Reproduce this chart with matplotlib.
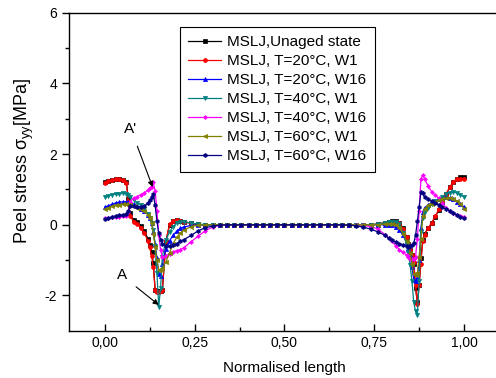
import numpy as np
import matplotlib
matplotlib.use("Agg")
import matplotlib.pyplot as plt
from matplotlib.ticker import FixedLocator, FuncFormatter

plt.rcParams['font.family'] = ['Liberation Sans', 'DejaVu Sans']
plt.rcParams['mathtext.default'] = 'regular'
plt.rcParams['axes.unicode_minus'] = False

# normalised position along the overlap (finer near the ends)
x_pos = [0.00, 0.01, 0.02, 0.03, 0.04, 0.05, 0.06, 0.065, 0.07, 0.08,
         0.09, 0.10, 0.11, 0.12, 0.125, 0.13, 0.135, 0.14, 0.145, 0.15,
         0.155, 0.16, 0.17, 0.18, 0.19, 0.20, 0.21, 0.22, 0.24, 0.26,
         0.28, 0.30, 0.32, 0.34, 0.36, 0.38, 0.40, 0.42, 0.44, 0.46,
         0.48, 0.50, 0.52, 0.54, 0.56, 0.58, 0.60, 0.62, 0.64, 0.66,
         0.68, 0.70, 0.72,
         0.74, 0.76, 0.78, 0.79, 0.80, 0.81, 0.82, 0.83, 0.84, 0.845,
         0.85, 0.855, 0.86, 0.865, 0.87, 0.875, 0.88, 0.885, 0.89, 0.90,
         0.91, 0.92, 0.93, 0.94, 0.95, 0.96, 0.97, 0.98, 0.99, 1.00]

unaged = [1.22, 1.25, 1.28, 1.30, 1.30, 1.28, 1.22, 0.72, 0.32, 0.14,
          0.07, -0.03, -0.17, -0.40, -0.56, -0.78, -1.08, -1.85, -1.88, -1.88,
          -1.87, -1.85, -0.48, 0.00, 0.11, 0.13, 0.12, 0.09, 0.04, 0.01,
          0.00, 0.00, 0.00, 0.00, 0.00, 0.00, 0.00, 0.00, 0.00, 0.00,
          0.00, 0.00, 0.00, 0.00, 0.00, 0.00, 0.00, 0.00, 0.00, 0.00,
          0.00, 0.00, 0.00,
          0.00, 0.02, 0.06, 0.08, 0.10, 0.10, 0.06, -0.10, -0.35, -0.55,
          -0.70, -0.85, -1.10, -1.80, -2.20, -1.70, -0.95, -0.42, -0.26, -0.10,
          0.05, 0.22, 0.43, 0.65, 0.86, 1.06, 1.21, 1.31, 1.35, 1.35]

t20_w1 = [1.19, 1.23, 1.27, 1.29, 1.29, 1.26, 1.19, 0.66, 0.26, 0.09,
          0.02, -0.08, -0.24, -0.46, -0.64, -0.88, -1.20, -1.86, -1.89, -1.89,
          -1.88, -1.86, -0.45, 0.02, 0.12, 0.13, 0.12, 0.09, 0.04, 0.01,
          0.00, 0.00, 0.00, 0.00, 0.00, 0.00, 0.00, 0.00, 0.00, 0.00,
          0.00, 0.00, 0.00, 0.00, 0.00, 0.00, 0.00, 0.00, 0.00, 0.00,
          0.00, 0.00, 0.00,
          0.00, 0.02, 0.06, 0.08, 0.09, 0.09, 0.05, -0.12, -0.36, -0.55,
          -0.70, -0.85, -1.05, -1.70, -2.25, -1.70, -1.10, -0.45, -0.28, -0.10,
          0.06, 0.24, 0.45, 0.66, 0.87, 1.06, 1.20, 1.29, 1.31, 1.31]

t20_w16 = [0.50, 0.54, 0.58, 0.62, 0.64, 0.65, 0.65, 0.64, 0.63, 0.58,
           0.52, 0.46, 0.40, 0.28, 0.18, 0.04, -0.20, -0.53, -0.95, -1.40,
           -1.45, -1.10, -0.68, -0.45, -0.30, -0.18, -0.10, -0.06, -0.02, 0.00,
           0.00, 0.00, 0.00, 0.00, 0.00, 0.00, 0.00, 0.00, 0.00, 0.00,
           0.00, 0.00, 0.00, 0.00, 0.00, 0.00, 0.00, 0.00, 0.00, 0.00,
           0.00, 0.00, 0.00,
           0.00, 0.00, 0.00, 0.00, -0.02, -0.06, -0.14, -0.30, -0.50, -0.65,
           -0.85, -1.20, -1.55, -1.58, -1.50, -1.00, -0.10, 0.35, 0.48, 0.56,
           0.62, 0.67, 0.72, 0.76, 0.78, 0.77, 0.72, 0.65, 0.58, 0.51]

t40_w1 = [0.79, 0.82, 0.85, 0.87, 0.88, 0.89, 0.88, 0.84, 0.78, 0.70,
          0.62, 0.55, 0.46, 0.30, 0.20, 0.05, -0.15, -0.60, -1.37, -2.32,
          -1.80, -0.90, -0.43, -0.20, -0.05, 0.05, 0.08, 0.08, 0.05, 0.02,
          0.00, 0.00, 0.00, 0.00, 0.00, 0.00, 0.00, 0.00, 0.00, 0.00,
          0.00, 0.00, 0.00, 0.00, 0.00, 0.00, 0.00, 0.00, 0.00, 0.00,
          0.00, 0.00, 0.00,
          0.00, 0.02, 0.06, 0.08, 0.09, 0.08, 0.02, -0.22, -0.55, -0.80,
          -1.15, -1.60, -2.20, -2.45, -2.55, -1.60, -0.20, 0.20, 0.35, 0.48,
          0.58, 0.66, 0.73, 0.80, 0.87, 0.91, 0.93, 0.90, 0.85, 0.79]

t40_w16 = [0.18, 0.19, 0.21, 0.22, 0.23, 0.24, 0.25, 0.35, 0.65, 0.76,
           0.80, 0.85, 0.90, 0.98, 1.03, 1.08, 1.20, 0.95, 0.40, -0.30,
           -0.70, -0.92, -0.88, -0.82, -0.77, -0.73, -0.70, -0.65, -0.48, -0.32,
           -0.17, -0.06, -0.02, 0.00, 0.00, 0.00, 0.00, 0.00, 0.00, 0.00,
           0.00, 0.00, 0.00, 0.00, 0.00, 0.00, 0.00, 0.00, 0.00, 0.00,
           0.00, -0.01, -0.02,
           -0.05, -0.12, -0.28, -0.37, -0.47, -0.60, -0.70, -0.78, -0.86, -0.92,
           -0.96, -0.98, -0.98, -0.90, -0.40, 0.40, 1.30, 1.42, 1.30, 1.10,
           0.93, 0.84, 0.75, 0.62, 0.48, 0.38, 0.32, 0.29, 0.26, 0.23]

t60_w1 = [0.44, 0.48, 0.52, 0.55, 0.57, 0.58, 0.58, 0.57, 0.56, 0.52,
          0.48, 0.44, 0.38, 0.28, 0.20, 0.05, -0.25, -0.62, -1.00, -1.28,
          -1.27, -1.23, -1.05, -0.80, -0.53, -0.36, -0.23, -0.15, -0.05, -0.01,
          0.00, 0.00, 0.00, 0.00, 0.00, 0.00, 0.00, 0.00, 0.00, 0.00,
          0.00, 0.00, 0.00, 0.00, 0.00, 0.00, 0.00, 0.00, 0.00, 0.00,
          0.00, 0.00, 0.00,
          0.00, 0.00, 0.02, 0.03, 0.03, 0.00, -0.08, -0.25, -0.45, -0.60,
          -0.80, -1.10, -1.40, -1.42, -1.37, -0.90, -0.40, 0.25, 0.45, 0.55,
          0.60, 0.65, 0.70, 0.73, 0.76, 0.77, 0.74, 0.68, 0.58, 0.46]

t60_w16 = [0.15, 0.18, 0.22, 0.25, 0.27, 0.28, 0.30, 0.40, 0.52, 0.53,
           0.51, 0.50, 0.53, 0.62, 0.70, 0.78, 0.86, 0.55, 0.10, -0.24,
           -0.42, -0.53, -0.60, -0.60, -0.57, -0.53, -0.47, -0.42, -0.30, -0.17,
           -0.08, -0.04, -0.01, 0.00, 0.00, 0.00, 0.00, 0.00, 0.00, 0.00,
           0.00, 0.00, 0.00, 0.00, 0.00, 0.00, 0.00, 0.00, 0.00, 0.00,
           -0.01, -0.03, -0.07,
           -0.12, -0.20, -0.30, -0.38, -0.44, -0.49, -0.53, -0.58, -0.61, -0.62,
           -0.60, -0.57, -0.52, -0.30, 0.10, 0.50, 0.93, 0.90, 0.78, 0.72,
           0.67, 0.62, 0.57, 0.50, 0.44, 0.40, 0.34, 0.28, 0.23, 0.18]

series = [
    ("MSLJ,Unaged state", unaged, "black", "s", 2.6),
    ("MSLJ, T=20°C, W1", t20_w1, "#ff0000", "o", 2.8),
    ("MSLJ, T=20°C, W16", t20_w16, "#0000ff", "^", 3.0),
    ("MSLJ, T=40°C, W1", t40_w1, "#008080", "v", 3.0),
    ("MSLJ, T=40°C, W16", t40_w16, "#ff00ff", "D", 2.0),
    ("MSLJ, T=60°C, W1", t60_w1, "#808000", "<", 3.0),
    ("MSLJ, T=60°C, W16", t60_w16, "#000080", "h", 2.8),
]

x_ticks = [0.0, 0.25, 0.5, 0.75, 1.0]
y_ticks = [-2, 0, 2, 4, 6]

fig = plt.figure(figsize=(4.96, 3.78), dpi=100)
ax = fig.add_axes([0.139, 0.125, 0.869, 0.841])

for label, vals, col, mk, ms in series:
    ax.plot(x_pos, vals, color=col, marker=mk, markersize=ms, linewidth=0.9,
            markeredgewidth=0.5, label=label)

ax.set_xlim(-0.1, 1.1)
ax.set_ylim(-3, 6)
ax.xaxis.set_major_locator(FixedLocator(x_ticks))
ax.xaxis.set_minor_locator(FixedLocator([0.125, 0.375, 0.625, 0.875]))
ax.yaxis.set_major_locator(FixedLocator(y_ticks))
ax.yaxis.set_minor_locator(FixedLocator([-1, 1, 3, 5]))
ax.xaxis.set_major_formatter(FuncFormatter(lambda v, p: f"{v:.2f}".replace('.', ',')))
ax.yaxis.set_major_formatter(FuncFormatter(lambda v, p: f"{int(v)}"))

ax.tick_params(axis='x', which='major', direction='in', length=5, width=1, labelsize=10, pad=4)
ax.tick_params(axis='x', which='minor', direction='in', length=3, width=1)
ax.tick_params(axis='y', which='major', direction='out', length=5, width=1, labelsize=10)
ax.tick_params(axis='y', which='minor', direction='out', length=3, width=1)
for s in ax.spines.values():
    s.set_linewidth(1.0)

ax.set_xlabel("Normalised length", fontsize=11, labelpad=8)
ax.set_ylabel("Peel stress σ$_{yy}$[MPa]", fontsize=13)
ax.yaxis.set_label_coords(-0.077, 0.535)

ax.annotate("A'", xy=(0.133, 1.07), xytext=(0.072, 2.72), fontsize=11,
            ha='center', va='center',
            arrowprops=dict(arrowstyle='-|>', color='black', lw=0.8,
                            shrinkA=6, shrinkB=0, mutation_scale=8))
ax.annotate("A", xy=(0.15, -2.27), xytext=(0.047, -1.43), fontsize=11,
            ha='center', va='center',
            arrowprops=dict(arrowstyle='-|>', color='black', lw=0.8,
                            shrinkA=6, shrinkB=0, mutation_scale=8))

leg = ax.legend(loc='upper left', bbox_to_anchor=(0.363, 0.929),
                bbox_transform=fig.transFigure, borderaxespad=0,
                fontsize=11, numpoints=1, handlelength=2.15, handletextpad=0.4,
                labelspacing=0.33, borderpad=0.55, fancybox=False, framealpha=1)
leg.get_frame().set_edgecolor('black')
leg.get_frame().set_linewidth(0.8)

fig.savefig("out.png", dpi=100)
